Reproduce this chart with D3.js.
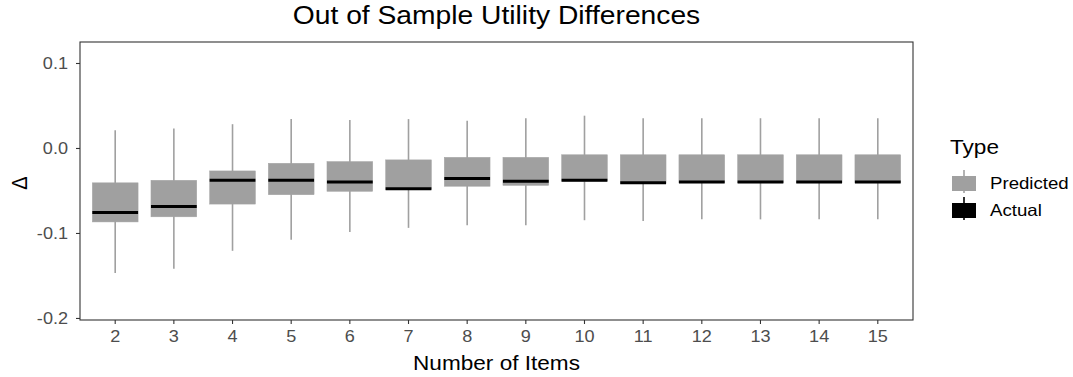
<!DOCTYPE html>
<html>
<head>
<meta charset="utf-8">
<script src="https://cdn.jsdelivr.net/npm/d3@7"></script>
<style>
  body { margin: 0; background: #fff; }
  text { font-family: "Liberation Sans", Arial, sans-serif; }
</style>
</head>
<body>
<script>
const width = 1073;
const height = 377;

// Data
const items = [2, 3, 4, 5, 6, 7, 8, 9, 10, 11, 12, 13, 14, 15];
const whiskerHigh = [0.021, 0.023, 0.028, 0.034, 0.033, 0.034, 0.032, 0.035, 0.038, 0.035, 0.035, 0.035, 0.035, 0.035];
const boxHigh     = [-0.041, -0.038, -0.027, -0.018, -0.016, -0.014, -0.011, -0.011, -0.008, -0.008, -0.008, -0.008, -0.008, -0.008];
const boxLow      = [-0.087, -0.081, -0.066, -0.055, -0.051, -0.049, -0.045, -0.044, -0.039, -0.042, -0.041, -0.041, -0.041, -0.041];
const whiskerLow  = [-0.147, -0.142, -0.121, -0.108, -0.099, -0.094, -0.091, -0.091, -0.085, -0.086, -0.084, -0.084, -0.084, -0.084];
const actual      = [-0.076, -0.069, -0.038, -0.038, -0.040, -0.048, -0.036, -0.039, -0.038, -0.041, -0.040, -0.040, -0.040, -0.040];
const yTicks = [-0.2, -0.1, 0.0, 0.1];
const legendItems = ["Predicted", "Actual"];

const rows = items.map((d, i) => ({
  item: d, wHi: whiskerHigh[i], bHi: boxHigh[i], bLo: boxLow[i], wLo: whiskerLow[i], act: actual[i]
}));

const panel = { left: 80, right: 913, top: 42, bottom: 320 };
const grey = "#a0a0a0";
const sx = 1.13; // text in the reference is a little wide

const svg = d3.select("body").append("svg")
  .attr("width", width)
  .attr("height", height);

// place a text at (x, y), widened a bit
function addText(parent, x, y, size, str, anchor) {
  return parent.append("text")
    .attr("transform", `translate(${x},${y}) scale(${sx},1)`)
    .attr("text-anchor", anchor || "start")
    .style("font-size", size + "px")
    .text(str);
}

// Scales
const x = d3.scaleBand()
  .domain(items)
  .range([panel.left, panel.right])
  .paddingOuter(0.1)
  .paddingInner(0);

const y = d3.scaleLinear()
  .domain([-0.2024, 0.1247])
  .range([panel.bottom, panel.top]);

const boxW = x.bandwidth() * 0.78;

// Boxes
const g = svg.append("g");

g.selectAll(".whisker")
  .data(rows)
  .enter()
  .append("line")
  .attr("class", "whisker")
  .attr("x1", d => x(d.item) + x.bandwidth() / 2)
  .attr("x2", d => x(d.item) + x.bandwidth() / 2)
  .attr("y1", d => y(d.wHi))
  .attr("y2", d => y(d.wLo))
  .attr("stroke", grey)
  .attr("stroke-width", 1.6);

g.selectAll(".box")
  .data(rows)
  .enter()
  .append("rect")
  .attr("class", "box")
  .attr("x", d => x(d.item) + (x.bandwidth() - boxW) / 2)
  .attr("width", boxW)
  .attr("y", d => y(d.bHi))
  .attr("height", d => y(d.bLo) - y(d.bHi))
  .attr("fill", grey)
  .attr("stroke", "#a3a3a3")
  .attr("stroke-width", 0.5);

g.selectAll(".actual")
  .data(rows)
  .enter()
  .append("line")
  .attr("class", "actual")
  .attr("x1", d => x(d.item) + (x.bandwidth() - boxW) / 2)
  .attr("x2", d => x(d.item) + (x.bandwidth() + boxW) / 2)
  .attr("y1", d => y(d.act))
  .attr("y2", d => y(d.act))
  .attr("stroke", "#000")
  .attr("stroke-width", 3);

// Panel border
svg.append("rect")
  .attr("x", panel.left)
  .attr("y", panel.top)
  .attr("width", panel.right - panel.left)
  .attr("height", panel.bottom - panel.top)
  .attr("fill", "none")
  .attr("stroke", "#333")
  .attr("stroke-width", 1.1);

// Axes
const xAxis = svg.append("g")
  .attr("transform", `translate(0,${panel.bottom})`)
  .call(d3.axisBottom(x).tickSize(4).tickPadding(7));
const yAxis = svg.append("g")
  .attr("transform", `translate(${panel.left},0)`)
  .call(d3.axisLeft(y).tickValues(yTicks).tickFormat(d => d.toFixed(1)).tickSize(4).tickPadding(8));

[xAxis, yAxis].forEach(a => {
  a.select(".domain").remove();
  a.selectAll(".tick line").attr("stroke", "#333").attr("stroke-width", 1.1);
  a.selectAll(".tick text")
    .attr("fill", "#4d4d4d")
    .attr("transform", `scale(${sx},1)`)
    .style("font-size", "16px")
    .style("font-family", "'Liberation Sans', Arial, sans-serif");
});
yAxis.selectAll(".tick text").attr("x", -12 / sx).attr("dy", "0.36em");

// Titles
addText(svg, (panel.left + panel.right) / 2, 24, 25, "Out of Sample Utility Differences", "middle");
addText(svg, (panel.left + panel.right) / 2, 370, 20, "Number of Items", "middle");

svg.append("text")
  .attr("transform", `translate(27,${(panel.top + panel.bottom) / 2 + 2}) rotate(-90) scale(1,${sx})`)
  .attr("text-anchor", "middle")
  .style("font-size", "20px")
  .text("Δ");

// Legend
const legend = svg.append("g").attr("transform", "translate(950,0)");
addText(legend, 0, 154, 20, "Type");

const keyColors = [grey, "#000"];
legendItems.forEach((name, i) => {
  const top = 176 + i * 27;
  const k = legend.append("g");
  k.append("line")
    .attr("x1", 14).attr("x2", 14)
    .attr("y1", top - 6).attr("y2", top + 17)
    .attr("stroke", keyColors[i])
    .attr("stroke-width", 1.6);
  k.append("rect")
    .attr("x", 2).attr("y", top)
    .attr("width", 24).attr("height", 15)
    .attr("fill", keyColors[i]);
  addText(k, 40, top + 13, 16.5, name);
});
</script>
</body>
</html>
